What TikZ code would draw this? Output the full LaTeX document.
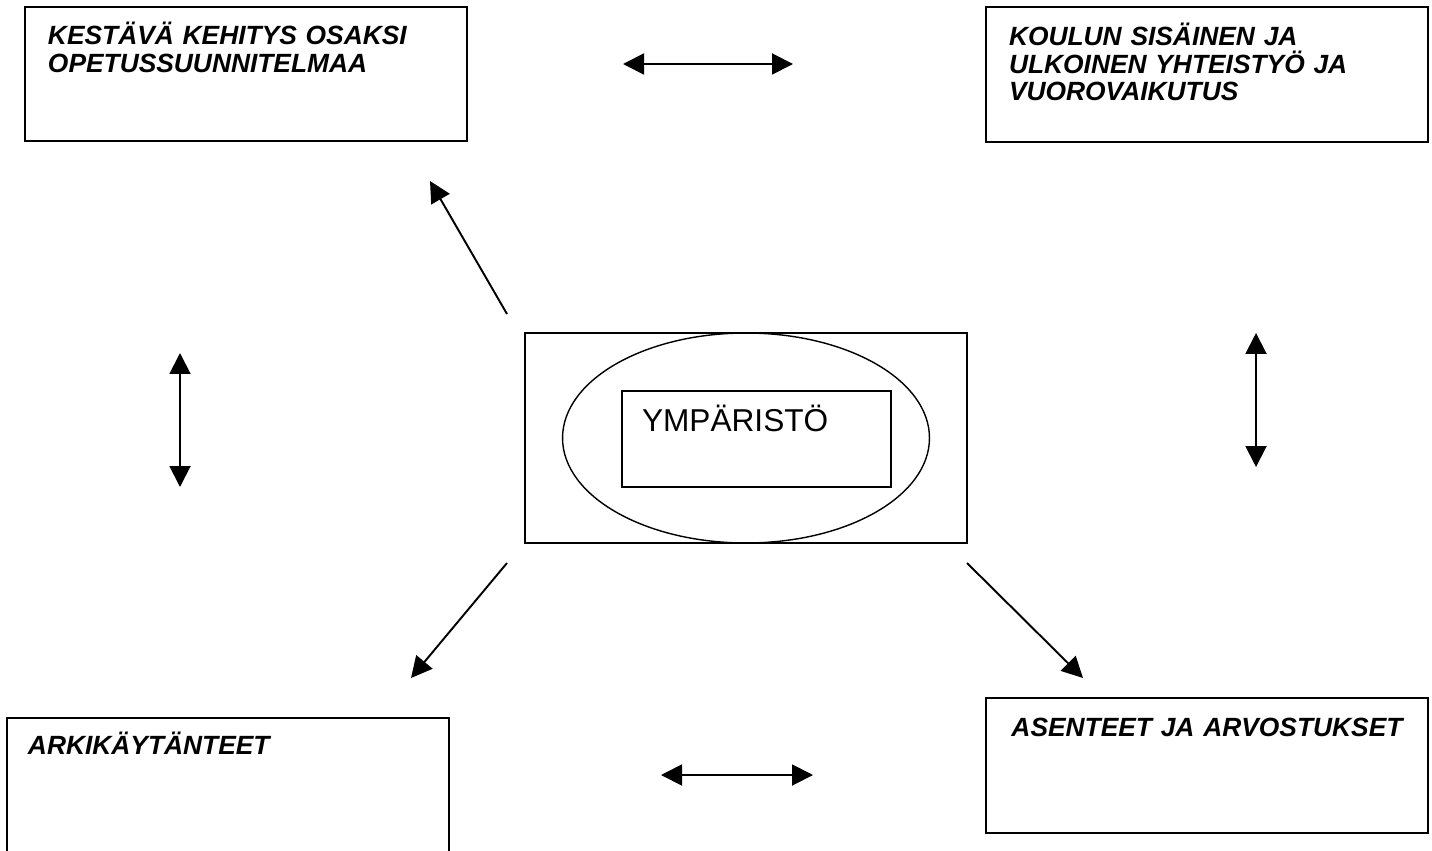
\documentclass[tikz,border=0pt]{standalone}
\usepackage{fontspec}
\setmainfont{Liberation Sans}
\usetikzlibrary{arrows.meta,shapes.geometric}

\tikzset{
  theme/.style={draw,line width=1.2pt,anchor=north west,outer sep=0pt,inner xsep=0.46cm,inner ysep=0pt,
    text width=7.92cm,align=left,text height=0.76cm,text depth=1.92cm,
    font=\fontsize{15pt}{15.6pt}\selectfont\bfseries\itshape},
  core/.style={draw,line width=0.8pt,inner sep=0pt,outer sep=0pt},
  link/.style={line width=1.1pt,-{Triangle[length=0.42cm,width=0.42cm]}},
  both/.style={line width=1.1pt,{Triangle[length=0.42cm,width=0.42cm]}-{Triangle[length=0.42cm,width=0.42cm]}}
}

\begin{document}
\begin{tikzpicture}[x=0.02cm,y=-0.02cm]
  \useasboundingbox (0,0) rectangle (1432,851);
  \clip (0,0) rectangle (1432,851);

  % the four corner boxes
  \node(curriculum)[theme] at (25,7) {KESTÄVÄ KEHITYS OSAKSI OPETUSSUUNNITELMAA};
  \node(cooperation)[theme,text height=0.78cm] at (986,7) {KOULUN SISÄINEN JA ULKOINEN YHTEISTYÖ JA VUOROVAIKUTUS};
  \node(practice)[theme,inner xsep=0.42cm,text width=8cm,text height=0.72cm,text depth=3cm] at (7,718) {ARKIKÄYTÄNTEET};
  \node(attitudes)[theme,align=center,text height=0.76cm,text depth=1.94cm] at (986,698) {ASENTEET JA ARVOSTUKSET};

  % centre: frame, oval and the inner box
  \node(frame)[core,minimum width=8.84cm,minimum height=4.2cm] at (746,438) {};
  \node(oval)[core,ellipse,minimum width=7.34cm,minimum height=4.2cm] at (frame) {};
  \node(environment)[core,anchor=north west,inner xsep=0.4cm,text width=4.58cm,align=left,
    text height=0.82cm,text depth=1.1cm,font=\fontsize{18pt}{20pt}\selectfont] at (622,391) {YMPÄRISTÖ};

  % double arrows between the boxes
  \coordinate(top-l) at (623,64);   \coordinate(top-r) at (793,64);
  \coordinate(bot-l) at (661,775);  \coordinate(bot-r) at (813,775);
  \coordinate(left-t) at (180,353); \coordinate(left-b) at (180,487);
  \coordinate(right-t) at (1256,333); \coordinate(right-b) at (1256,467);
  \draw[both] (top-l) -- (top-r);
  \draw[both] (bot-l) -- (bot-r);
  \draw[both] (left-t) -- (left-b);
  \draw[both] (right-t) -- (right-b);

  % arrows out of the centre
  \coordinate(nw-from) at (507,314); \coordinate(nw-to) at (430,181);
  \coordinate(sw-from) at (507,563); \coordinate(sw-to) at (411,678);
  \coordinate(se-from) at (967,563); \coordinate(se-to) at (1083,678);
  \draw[link] (nw-from) -- (nw-to);
  \draw[link] (sw-from) -- (sw-to);
  \draw[link] (se-from) -- (se-to);
\end{tikzpicture}
\end{document}
